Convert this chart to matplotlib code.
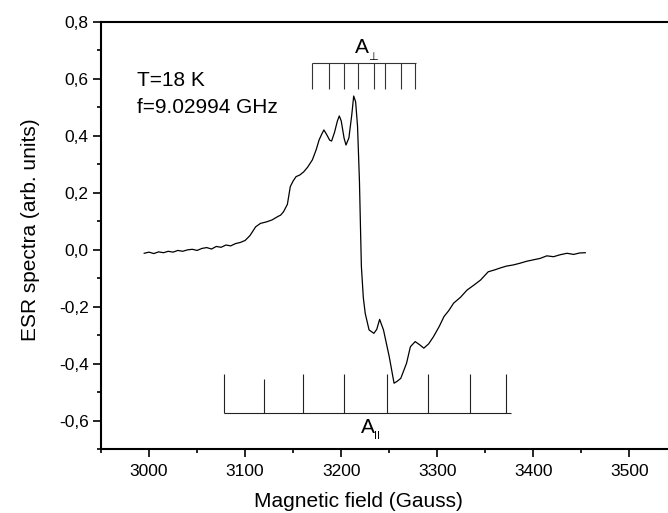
import numpy as np
import matplotlib
matplotlib.use('Agg')
import matplotlib.pyplot as plt
from matplotlib.ticker import MultipleLocator, FuncFormatter

# ESR spectrum (field in Gauss, signal in arb. units)
field = [2995, 3000, 3005, 3010, 3015, 3020, 3025, 3030, 3035, 3040,
         3045, 3050, 3055, 3060, 3065, 3070, 3075, 3080, 3085, 3090,
         3095, 3100, 3105, 3111, 3116, 3122, 3128, 3134, 3137, 3140,
         3144, 3147, 3150, 3153, 3157, 3161, 3165, 3170, 3174, 3177,
         3180, 3182, 3185, 3188, 3190, 3193, 3196, 3198, 3200, 3203,
         3205, 3208, 3211, 3213, 3215, 3217, 3219, 3220, 3221, 3223,
         3225, 3229, 3234, 3237, 3240, 3244, 3250, 3255, 3258, 3262,
         3268, 3272, 3277, 3282, 3286, 3291, 3296, 3302, 3307, 3312,
         3317, 3324, 3331, 3338, 3345, 3353, 3360, 3366, 3372, 3379,
         3386, 3393, 3400, 3407, 3414, 3421, 3428, 3435, 3442, 3448,
         3454]
signal = [-0.012, -0.008, -0.013, -0.007, -0.010, -0.005, -0.008, -0.002, -0.005, 0.000,
          0.002, -0.002, 0.005, 0.008, 0.003, 0.012, 0.009, 0.017, 0.014, 0.022,
          0.026, 0.033, 0.050, 0.081, 0.093, 0.098, 0.105, 0.117, 0.122, 0.134,
          0.160, 0.222, 0.242, 0.257, 0.263, 0.274, 0.290, 0.316, 0.352, 0.386,
          0.408, 0.421, 0.404, 0.385, 0.382, 0.412, 0.452, 0.470, 0.453, 0.392,
          0.368, 0.393, 0.474, 0.540, 0.520, 0.434, 0.240, 0.088, -0.058, -0.167,
          -0.223, -0.281, -0.293, -0.279, -0.244, -0.281, -0.375, -0.468, -0.462, -0.451,
          -0.398, -0.340, -0.322, -0.334, -0.345, -0.330, -0.305, -0.269, -0.234, -0.213,
          -0.187, -0.167, -0.141, -0.124, -0.106, -0.077, -0.070, -0.063, -0.057, -0.053,
          -0.047, -0.040, -0.035, -0.030, -0.021, -0.024, -0.017, -0.012, -0.016, -0.011,
          -0.010]

# hyperfine stick positions
a_perp = [3170, 3187, 3203, 3218, 3234, 3246, 3262, 3277]
a_par = [3078, 3120, 3160, 3203, 3248, 3290, 3334, 3372]
a_par_top = [-0.436, -0.454, -0.436, -0.436, -0.436, -0.436, -0.436, -0.436]

plt.rcParams['font.family'] = ['Liberation Sans', 'DejaVu Sans']


def comma(v, pos):
    return ('%.1f' % v).replace('.', ',')


def main():
    fig = plt.figure(figsize=(6.68, 5.13), dpi=100)
    ax = fig.add_axes([0.1512, 0.1242, 0.863, 0.833])

    ax.plot(field, signal, color='black', lw=0.9)

    # A perpendicular sticks
    ax.vlines(a_perp, 0.564, 0.655, color='#333333', lw=0.8)
    ax.hlines(0.655, a_perp[0], a_perp[-1] + 1, color='#333333', lw=0.8)
    ax.text(3222, 0.709, 'A', fontsize=15, ha='center', va='center')
    ax.text(3233, 0.677, '⊥', fontsize=8, ha='center', va='center')

    # A parallel sticks
    ax.vlines(a_par, -0.571, a_par_top, color='#222222', lw=0.8)
    ax.hlines(-0.571, a_par[0], a_par[-1] + 5, color='#222222', lw=0.8)
    ax.text(3228, -0.625, 'A', fontsize=15, ha='center', va='center')
    ax.text(3237, -0.655, 'II', fontsize=8, ha='center', va='center')

    ax.text(2987, 0.596, 'T=18 K', fontsize=15, ha='left', va='center')
    ax.text(2987, 0.498, 'f=9.02994 GHz', fontsize=15, ha='left', va='center')

    ax.set_xlim(2950, 3550)
    ax.set_ylim(-0.7, 0.8)
    ax.xaxis.set_minor_locator(MultipleLocator(50))
    ax.yaxis.set_major_locator(MultipleLocator(0.2))
    ax.yaxis.set_minor_locator(MultipleLocator(0.1))
    ax.yaxis.set_major_formatter(FuncFormatter(comma))
    ax.set_xticks([3000, 3100, 3200, 3300, 3400, 3500])
    ax.set_yticks([-0.6, -0.4, -0.2, 0.0, 0.2, 0.4, 0.6, 0.8])

    ax.tick_params(which='major', direction='out', length=6, width=1.2, labelsize=12.5, pad=3)
    ax.tick_params(axis='x', which='major', pad=4.5)
    ax.tick_params(which='minor', direction='out', length=3, width=1.2)
    for s in ax.spines.values():
        s.set_linewidth(1.5)

    ax.set_xlabel('Magnetic field (Gauss)', fontsize=15)
    ax.set_ylabel('ESR spectra (arb. units)', fontsize=15)
    ax.xaxis.set_label_coords(0.447, -0.101)
    ax.yaxis.set_label_coords(-0.106, 0.513)

    fig.savefig('out.png', dpi=100)


if __name__ == '__main__':
    main()
